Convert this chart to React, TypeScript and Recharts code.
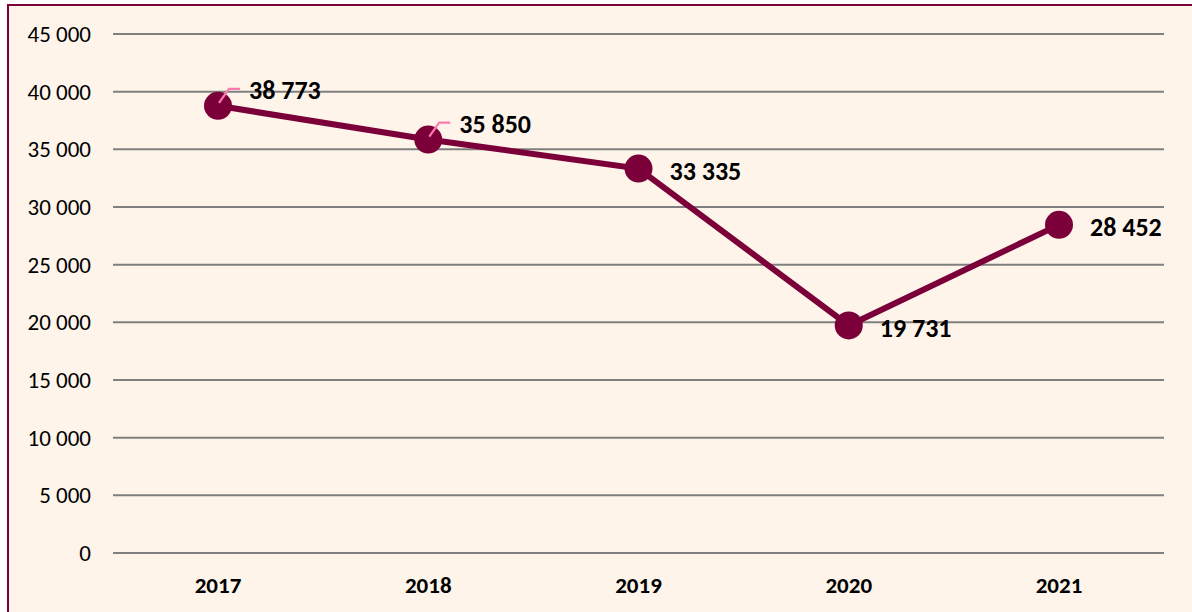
import { LineChart, Line, XAxis, YAxis, CartesianGrid, LabelList } from 'recharts'

const years = ['2017', '2018', '2019', '2020', '2021']
const cases = [38773, 35850, 33335, 19731, 28452]
const yTicks = [0, 5000, 10000, 15000, 20000, 25000, 30000, 35000, 40000, 45000]

const data = years.map((year, i) => ({ year, value: cases[i] }))

const maroon = '#7B003A'
const font = 'Carlito, Calibri, Lato, sans-serif'

const fmt = (v: number) => v.toLocaleString('en-US').replace(/,/g, ' ')

// first two labels sit up-right with a pink leader line, the rest sit to the right
const ValueLabel = (props: any) => {
  const { x, y, value, index } = props
  const lifted = index < 2
  const tx = x + 31
  const ty = lifted ? y - 16 : y + 2
  return (
    <g>
      {lifted && (
        <path
          d={`M${x + 1},${y - 3} L${x + 11},${y - 17} L${x + 22},${y - 17}`}
          stroke="#FF7AAE"
          strokeWidth={2.2}
          fill="none"
        />
      )}
      <text x={tx} y={ty} dy="0.35em" fontFamily={font} fontWeight="bold" fontSize={26} fill="#000">
        {fmt(value)}
      </text>
    </g>
  )
}

const YTick = (props: any) => {
  const { x, y, payload } = props
  return (
    <text x={x} y={y} dy="0.35em" textAnchor="end" fontFamily={font} fontSize={23} fill="#000">
      {fmt(payload.value)}
    </text>
  )
}

const XTick = (props: any) => {
  const { x, y, payload } = props
  return (
    <text x={x} y={y} dy="0.35em" textAnchor="middle" fontFamily={font} fontWeight="bold" fontSize={23} fill="#000">
      {payload.value}
    </text>
  )
}

export default function App() {
  return (
    <div style={{ position: 'fixed', left: 0, top: 0, width: 1192, height: 612, overflow: 'hidden', background: '#fff' }}>
      <div
        style={{
          position: 'absolute',
          left: 7,
          top: 4,
          width: 1200,
          height: 620,
          border: `2px solid ${maroon}`,
          background: '#FEF4EA',
        }}
      />
      <div style={{ position: 'absolute', left: 0, top: 0 }}>
        <LineChart width={1192} height={612} data={data} margin={{ top: 34, right: 28, bottom: 0, left: 0 }}>
          <CartesianGrid horizontal vertical={false} stroke="#7F7F7F" strokeWidth={2} />
          <XAxis
            dataKey="year"
            height={59}
            padding={{ left: 105, right: 105 }}
            axisLine={false}
            tickLine={false}
            tickSize={0}
            tickMargin={32}
            tick={<XTick />}
          />
          <YAxis
            width={113}
            domain={[0, 45000]}
            ticks={yTicks}
            interval={0}
            axisLine={false}
            tickLine={false}
            tickSize={0}
            tickMargin={22}
            tick={<YTick />}
          />
          <Line
            dataKey="value"
            stroke={maroon}
            strokeWidth={6}
            dot={{ r: 14, fill: maroon, stroke: maroon, strokeWidth: 0 }}
            activeDot={false}
            isAnimationActive={false}
          >
            <LabelList dataKey="value" content={<ValueLabel />} />
          </Line>
        </LineChart>
      </div>
    </div>
  )
}
